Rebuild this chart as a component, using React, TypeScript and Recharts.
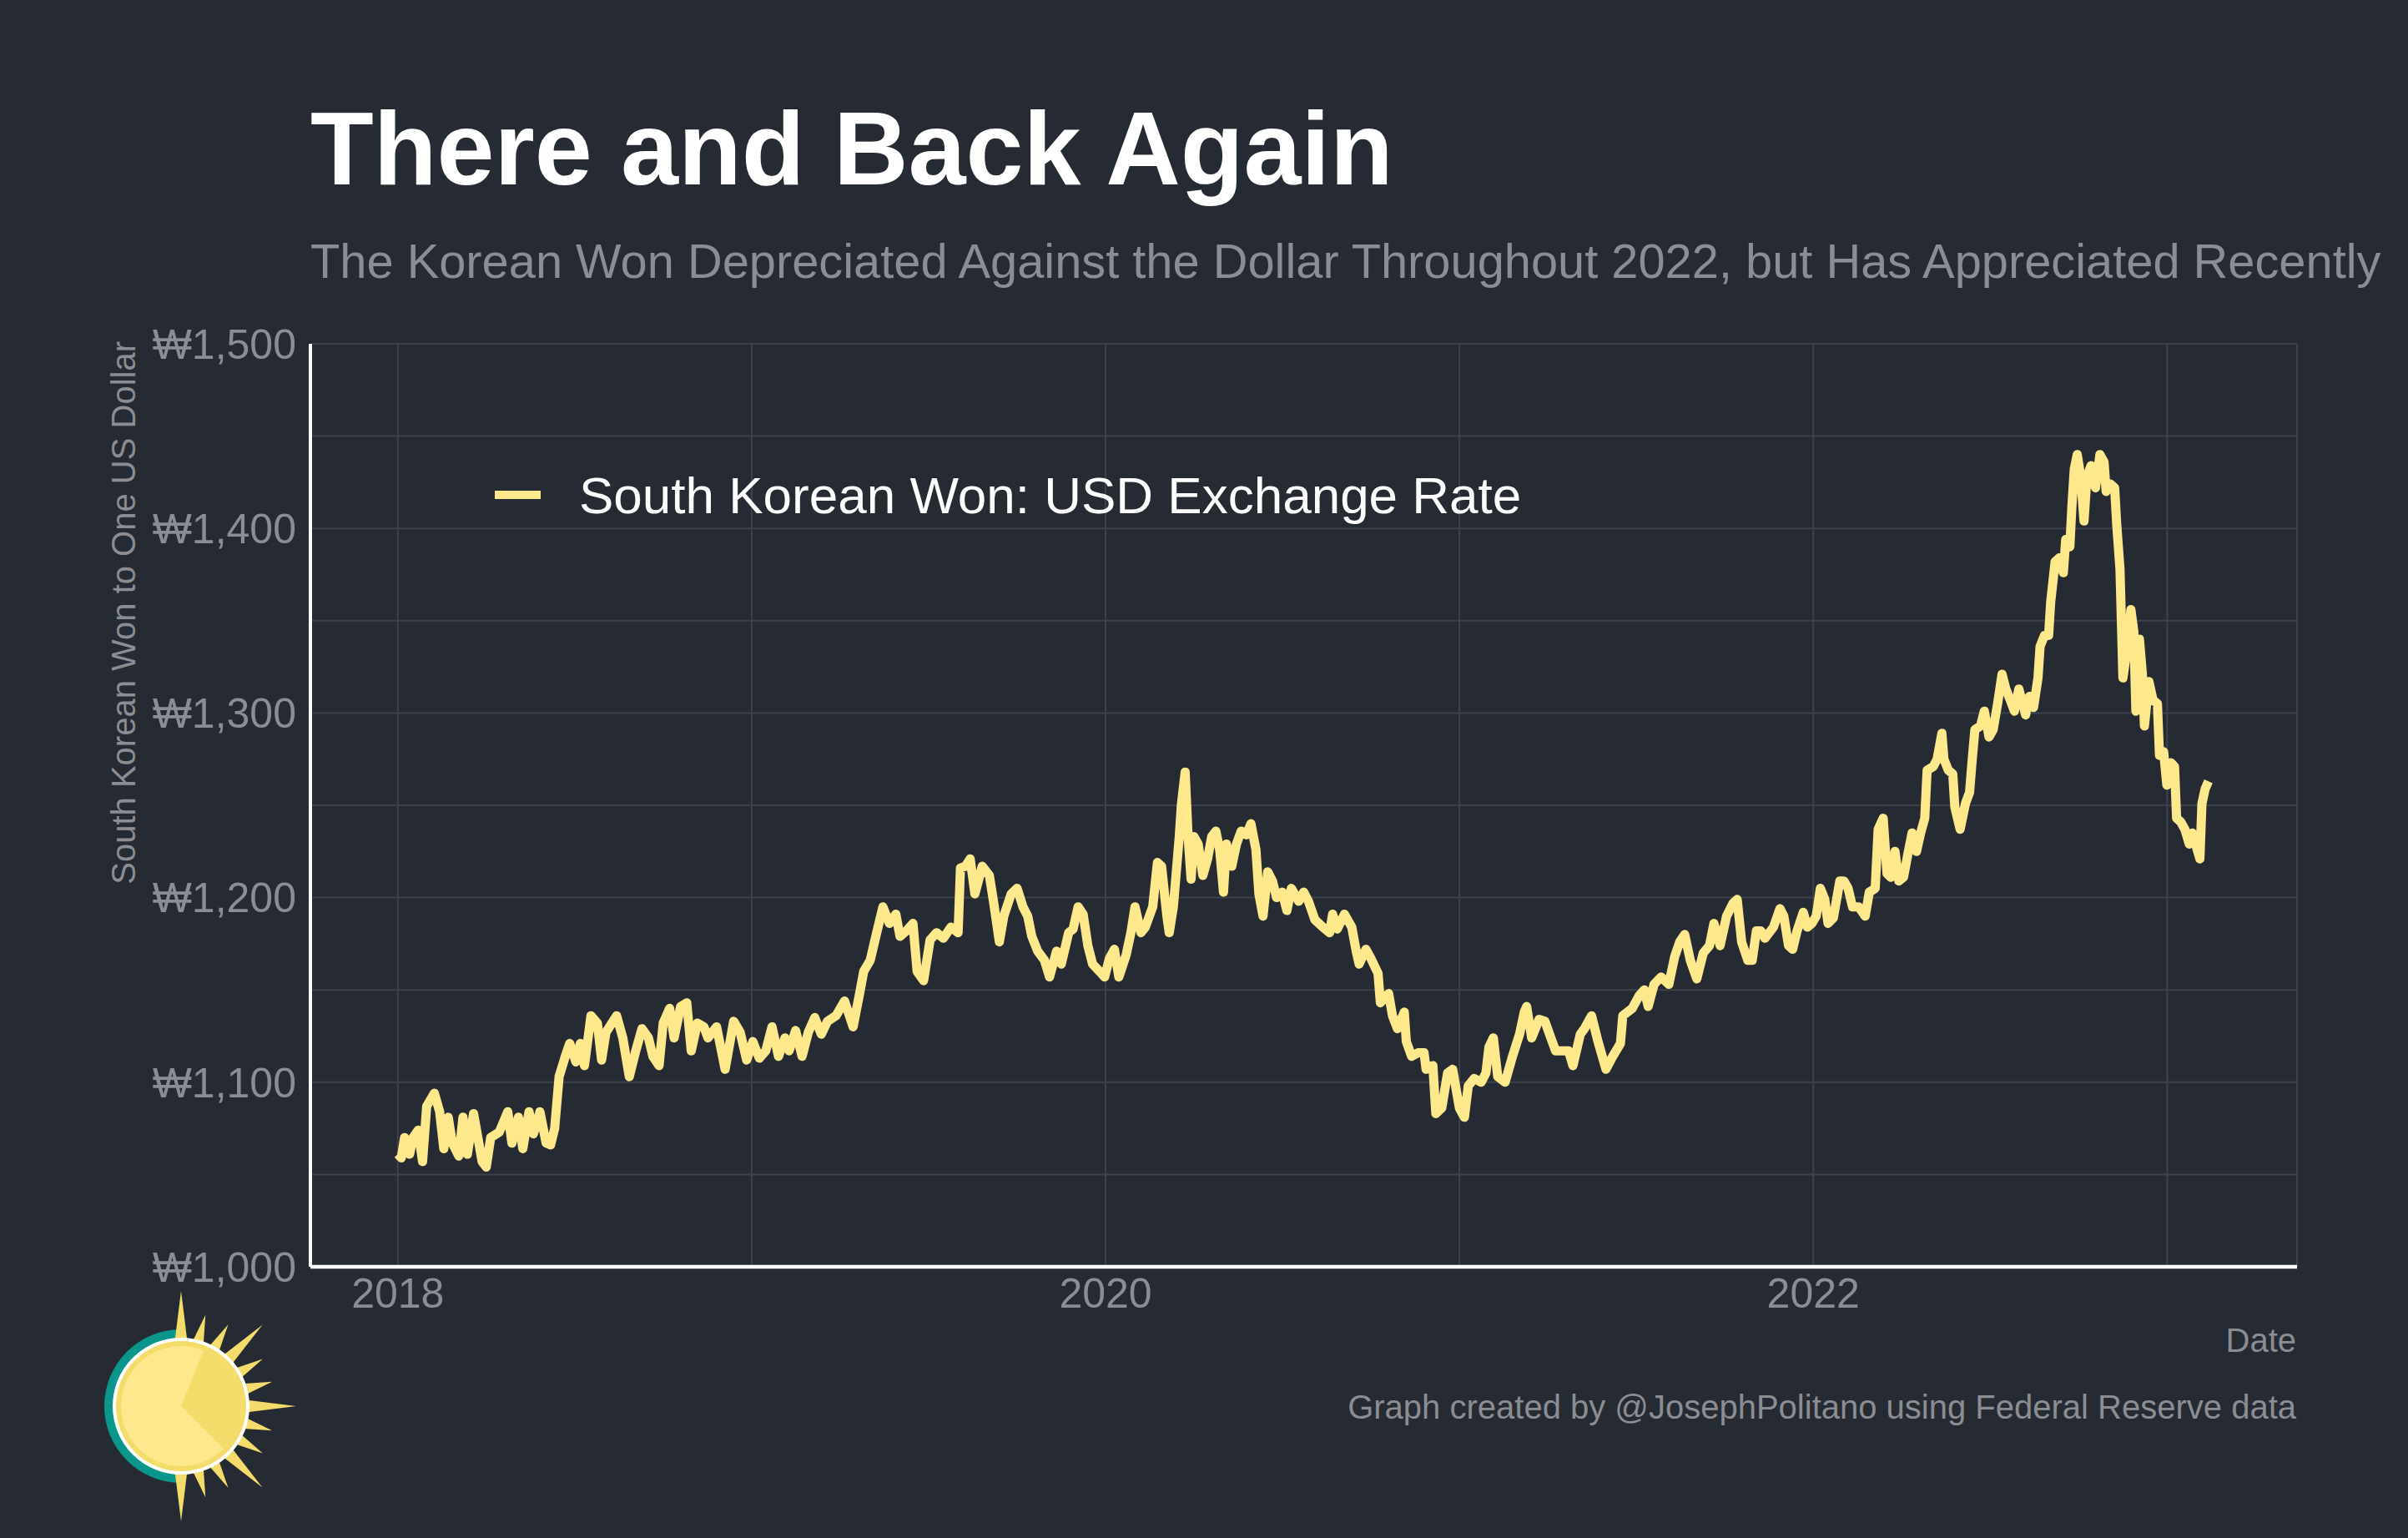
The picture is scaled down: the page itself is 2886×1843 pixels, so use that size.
import React from 'react';
import { LineChart, Line, XAxis, YAxis, CartesianGrid } from 'recharts';

// Won per US dollar, sampled along the series; x is months elapsed since Jan 1 2018
const monthsSince2018 = [
  0, 0.12, 0.23, 0.4, 0.52, 0.69, 0.84, 0.98, 1.24, 1.42, 1.56, 1.71, 1.85, 2.07, 2.21, 2.36, 2.57, 2.86,
  3.0, 3.15, 3.44, 3.73, 3.87, 4.09, 4.24, 4.45, 4.6, 4.82, 5.03, 5.18, 5.32, 5.47, 5.68, 5.83, 6.04, 6.19,
  6.33, 6.55, 6.77, 6.91, 7.06, 7.42, 7.63, 7.85, 8.07, 8.28, 8.5, 8.65, 8.86, 9.0, 9.22, 9.37, 9.59, 9.8,
  9.95, 10.16, 10.38, 10.52, 10.81, 11.1, 11.39, 11.61, 11.83, 12.04, 12.26, 12.48, 12.69, 12.91, 13.13,
  13.27, 13.49, 13.71, 13.92, 14.14, 14.36, 14.57, 14.86, 15.15, 15.44, 15.66, 15.8, 16.02, 16.24, 16.45,
  16.67, 16.89, 17.03, 17.25, 17.47, 17.61, 17.83, 18.05, 18.27, 18.5, 18.76, 19.0,
  19.08, 19.25, 19.41, 19.57, 19.82, 20.06, 20.2, 20.4, 20.55, 20.8, 21.0, 21.2, 21.36, 21.5, 21.7, 21.93,
  22.1, 22.34, 22.5, 22.75, 22.9, 23.07, 23.24, 23.4, 23.56, 23.8, 23.97, 24.13, 24.3, 24.45, 24.7, 24.86,
  25.0, 25.2, 25.35, 25.6, 25.76, 25.9, 26.08, 26.16, 26.3, 26.5, 26.57, 26.7, 26.8, 26.9, 27.0, 27.14,
  27.3, 27.46, 27.6, 27.74, 27.87, 28.0, 28.1, 28.28, 28.44, 28.6, 28.77, 28.93, 29.1, 29.2, 29.34, 29.5,
  29.66, 29.8, 29.99, 30.15, 30.3, 30.55, 30.72, 30.88, 31.1, 31.37, 31.6, 31.7, 31.86, 32.1, 32.35, 32.5,
  32.6, 32.83, 33.0, 33.24, 33.32, 33.6, 33.73, 33.9, 34.13, 34.2, 34.38, 34.6, 34.8, 34.87, 35.1, 35.2,
  35.4, 35.6, 35.77, 36.0, 36.17, 36.3, 36.5, 36.74, 36.9, 37.0, 37.15, 37.3, 37.55, 37.8, 38.04, 38.2,
  38.28, 38.45, 38.7, 38.9, 39.1, 39.26, 39.4, 39.7, 39.85, 40.1, 40.24, 40.48, 40.7, 40.97, 41.2, 41.46,
  41.54, 41.86, 42.1, 42.27, 42.4, 42.6, 42.84,
  43.1, 43.3, 43.47, 43.64, 43.83, 44.05, 44.27, 44.48, 44.63, 44.84, 45.06, 45.28, 45.42, 45.57, 45.78,
  45.93, 46.07, 46.22, 46.36, 46.65, 46.87, 47.0, 47.16, 47.3, 47.45, 47.66, 47.8, 47.95, 48.1, 48.24,
  48.39, 48.5, 48.68, 48.9, 49.04, 49.18, 49.33, 49.54, 49.76, 49.9, 50.1, 50.2, 50.37, 50.5, 50.63,
  50.77, 50.9, 51.06, 51.2, 51.35, 51.5, 51.64, 51.78, 51.86, 52.07, 52.2, 52.36, 52.43, 52.58, 52.73,
  52.8, 52.98, 53.16, 53.3, 53.38, 53.48, 53.67, 53.8, 53.96, 54.1, 54.25, 54.4, 54.53, 54.68, 54.82,
  54.97, 55.2, 55.33, 55.47, 55.62, 55.69, 55.84, 55.98, 56.05, 56.2, 56.34, 56.48, 56.56, 56.7, 56.77,
  56.85, 56.95, 57.07, 57.18, 57.28, 57.42, 57.57, 57.72, 57.86, 57.93, 58.08, 58.22, 58.29, 58.4, 58.5,
  58.66, 58.77, 58.87, 58.94, 59.06, 59.16, 59.23, 59.38, 59.52, 59.67, 59.74, 59.88, 59.99, 60.13,
  60.25, 60.32, 60.46, 60.6, 60.75, 60.85, 61.0, 61.11, 61.18, 61.29, 61.4,
];

const wonPerDollar = [
  1061, 1059, 1070, 1061, 1070, 1074, 1057, 1087, 1094, 1084, 1064, 1081, 1067, 1060, 1081, 1061, 1083, 1057,
  1054, 1070, 1073, 1084, 1067, 1081, 1064, 1084, 1072, 1084, 1067, 1066, 1075, 1103, 1114, 1121, 1111, 1121,
  1109, 1136, 1132, 1112, 1127, 1136, 1124, 1103, 1117, 1129, 1124, 1114, 1109, 1132, 1140, 1124, 1141, 1143,
  1117, 1132, 1130, 1124, 1130, 1107, 1133, 1127, 1112, 1122, 1113, 1117, 1130, 1114, 1124,
  1117, 1128, 1114, 1127, 1135, 1126, 1133, 1136, 1144, 1130, 1148, 1160, 1166, 1181, 1195,
  1186, 1191, 1179, 1182, 1186, 1160, 1155, 1177, 1181, 1178, 1184, 1181,
  1216, 1217, 1221, 1202, 1217, 1212, 1198, 1176, 1190, 1202, 1205, 1195, 1190, 1179, 1171, 1166,
  1157, 1171, 1164, 1181, 1183, 1195, 1191, 1174, 1164, 1160, 1157, 1167, 1172, 1157, 1169, 1181,
  1195, 1181, 1184, 1195, 1219, 1217, 1190, 1181, 1195, 1233, 1250, 1268, 1233, 1210, 1233, 1229,
  1212, 1221, 1233, 1236, 1226, 1203, 1229, 1217, 1229, 1236, 1234, 1240, 1226, 1202, 1190, 1214,
  1209, 1200, 1203, 1193, 1205, 1198, 1203, 1198, 1188, 1184, 1181, 1191, 1183, 1191, 1184, 1171,
  1164, 1172, 1167, 1159, 1143, 1148, 1136, 1129, 1138, 1122, 1114, 1116, 1116, 1107, 1109, 1083,
  1086, 1105, 1107, 1086, 1081, 1098, 1102, 1100, 1105, 1119, 1124, 1103, 1100, 1114, 1126, 1138,
  1141, 1124, 1134, 1133, 1124, 1117, 1117, 1117, 1109, 1126, 1129, 1136, 1122, 1107, 1114, 1121,
  1136, 1140, 1147, 1150, 1141, 1153, 1157,
  1153, 1168, 1176, 1180, 1166, 1156, 1170, 1174, 1186, 1174, 1190, 1197, 1199, 1176, 1166,
  1166, 1182, 1182, 1178, 1184, 1194, 1190, 1174, 1172, 1182, 1192, 1184, 1186, 1190, 1205,
  1199, 1186, 1189, 1209, 1209, 1205, 1195, 1195, 1190, 1203, 1205, 1237, 1243, 1213, 1211,
  1225, 1209, 1211, 1223, 1235, 1225, 1235, 1243, 1269, 1271, 1275, 1289, 1275, 1269, 1267,
  1249, 1237, 1251, 1257, 1273, 1291, 1293, 1301, 1287, 1291, 1305, 1321, 1313, 1307, 1301,
  1313, 1299, 1309, 1303, 1319, 1336, 1342, 1342, 1360, 1382, 1384, 1376, 1394, 1390, 1412,
  1432, 1440, 1428, 1404, 1428, 1434, 1422, 1440, 1436, 1420, 1424, 1422, 1402, 1378, 1319,
  1337, 1356, 1344, 1301, 1340, 1321, 1293, 1317, 1307, 1305, 1277, 1279, 1261, 1273,
  1271, 1243, 1241, 1237, 1229, 1235, 1227, 1221, 1251, 1259, 1263,
];

const yearTicks = [2018, 2019, 2020, 2021, 2022, 2023];
const labeledYears = [2018, 2020, 2022];
const wonTicks = [1000, 1050, 1100, 1150, 1200, 1250, 1300, 1350, 1400, 1450, 1500];

const seriesName = 'South Korean Won: USD Exchange Rate';

const BG = '#252a33';
const GRID = '#3e424a';
const MUTED = '#8b8d93';
const LINE = '#fee88c';
const FONT = '"Liberation Sans", Arial, Helvetica, sans-serif';

const data = monthsSince2018.map((m, i) => ({ t: 2018 + m / 12, rate: wonPerDollar[i] }));

const formatWon = (v: number) =>
  v % 100 === 0 ? `₩${Math.floor(v / 1000)},${String(v % 1000).padStart(3, '0')}` : '';

// sun logo in the lower-left corner
function SunLogo({ cx, cy }: { cx: number; cy: number }) {
  const rays: { a: number; len: number }[] = [];
  for (let a = -90; a <= 90; a += 15) {
    rays.push({ a, len: a % 45 === 0 ? 138 : 113 });
  }
  const pt = (deg: number, r: number) => {
    const rad = (deg * Math.PI) / 180;
    return `${cx + r * Math.cos(rad)},${cy + r * Math.sin(rad)}`;
  };
  const wedgeR = 72;
  const a0 = -68;
  const a1 = 45;
  return (
    <g>
      <path
        d={`M ${cx} ${cy - 92} A 92 92 0 0 0 ${cx} ${cy + 92} Z`}
        fill="#0a968a"
      />
      {rays.map((r) => (
        <polygon
          key={r.a}
          points={`${pt(r.a - 7, 70)} ${pt(r.a, r.len)} ${pt(r.a + 7, 70)}`}
          fill="#f4dc6b"
        />
      ))}
      <circle cx={cx} cy={cy} r={80} fill="#f4dc6b" stroke="#ffffff" strokeWidth={4} />
      <circle cx={cx} cy={cy} r={wedgeR} fill="#fee88e" />
      <path
        d={`M ${cx} ${cy} L ${pt(a0, wedgeR)} A ${wedgeR} ${wedgeR} 0 0 1 ${pt(a1, wedgeR)} Z`}
        fill="#f4dc6b"
      />
    </g>
  );
}

export default function App() {
  return (
    <div
      style={{
        position: 'absolute',
        left: 0,
        top: 0,
        width: 2886,
        height: 1843,
        background: BG,
        fontFamily: FONT,
        overflow: 'hidden',
      }}
    >
      <LineChart
        width={2886}
        height={1843}
        data={data}
        margin={{ top: 412, right: 133, bottom: 265, left: 0 }}
      >
        <CartesianGrid stroke={GRID} strokeWidth={2} />
        <XAxis
          dataKey="t"
          type="number"
          domain={[2017.753, 2023.367]}
          ticks={yearTicks}
          interval={0}
          tickFormatter={(v: number) => (labeledYears.includes(v) ? String(v) : '')}
          height={60}
          tickLine={false}
          tickSize={6}
          tickMargin={7}
          axisLine={{ stroke: '#ffffff', strokeWidth: 4.5 }}
          tick={{ fill: MUTED, fontSize: 50, fontFamily: FONT }}
        />
        <YAxis
          type="number"
          domain={[1000, 1500]}
          ticks={wonTicks}
          interval={0}
          width={372}
          tickFormatter={formatWon}
          tickLine={false}
          tickSize={6}
          tickMargin={11}
          axisLine={{ stroke: '#ffffff', strokeWidth: 4 }}
          tick={{ fill: MUTED, fontSize: 50, fontFamily: FONT }}
        />
        <Line
          type="linear"
          dataKey="rate"
          name={seriesName}
          stroke={LINE}
          strokeWidth={11}
          strokeLinejoin="round"
          dot={false}
          isAnimationActive={false}
        />
      </LineChart>

      <svg
        width={2886}
        height={1843}
        style={{ position: 'absolute', left: 0, top: 0, pointerEvents: 'none' }}
        fontFamily={FONT}
      >
        <text x={372} y={221} fontSize={124} fontWeight="bold" fill="#ffffff">
          There and Back Again
        </text>
        <text x={372} y={333} fontSize={57.8} fill={MUTED}>
          The Korean Won Depreciated Against the Dollar Throughout 2022, but Has Appreciated Recently
        </text>

        {/* legend */}
        <line x1={593} y1={593} x2={648} y2={593} stroke={LINE} strokeWidth={10} />
        <text x={694} y={615} fontSize={62} fill="#ffffff">
          {seriesName}
        </text>

        <text
          transform="translate(162 409) rotate(-90)"
          textAnchor="end"
          fontSize={40}
          fill={MUTED}
        >
          South Korean Won to One US Dollar
        </text>
        <text x={2752} y={1620} textAnchor="end" fontSize={40} fill={MUTED}>
          Date
        </text>
        <text x={2752} y={1700} textAnchor="end" fontSize={40} fill={MUTED}>
          Graph created by @JosephPolitano using Federal Reserve data
        </text>

        <SunLogo cx={217} cy={1685} />
      </svg>
    </div>
  );
}
